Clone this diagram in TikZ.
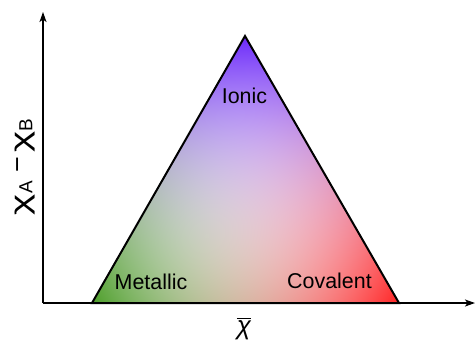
\documentclass[tikz,border=0pt]{standalone}
\usepackage{fontspec}
\setmainfont{Liberation Sans}
\usetikzlibrary{arrows.meta}
% colour of a point from its barycentric weights (apex, right, left)
\pgfdeclarefunctionalshading{trimix}{\pgfpoint{-50bp}{-50bp}}{\pgfpoint{50bp}{50bp}}{}{
    25 add 50 div exch 25 div
    2 copy exch 1 exch sub dup 3 -1 roll add 2 div 3 1 roll exch sub 2 div
    dup 0 lt {pop 0} if 2.3 exp 3 1 roll
    dup 0 lt {pop 0} if 2.3 exp 3 1 roll
    dup 0 lt {pop 0} if 2.3 exp 3 1 roll
    2 index -0.55 mul 2 index 0.03 mul add 1 index -0.67 mul add 0.97 add
    3 index -0.78 mul 3 index -0.80 mul add 2 index -0.32 mul add 0.94 add
    4 index 0.01 mul 4 index -0.83 mul add 3 index -0.81 mul add 0.97 add
    6 3 roll pop pop pop
}
\tikzset{axis/.style={line width=1.4bp,-{Stealth[length=10bp,width=7bp,inset=2.5bp]}}}
\tikzset{bondtype/.style={font=\fontsize{21.5}{24}\selectfont,inner sep=0pt,anchor=base}}
\newcommand{\chiglyph}{\scalebox{1.5}[1]{χ}}

\begin{document}
\begin{tikzpicture}[x=1bp,y=-1bp]
    \useasboundingbox (0,0) rectangle (475,342);
    \coordinate (top) at (245,36);
    \coordinate (left) at (92,303);
    \coordinate (right) at (399,303);
    \coordinate (origin) at (43,303);
    \coordinate (yend) at (43,12);
    \coordinate (xend) at (475,303);
    % triangle with mixed colours
    \shade [shading=trimix] (top) -- (left) -- (right) -- cycle;
    \draw [line width=2bp,line join=miter] (top) -- (left) -- (right) -- cycle;
    % axes
    \draw [axis] (origin) -- (yend);
    \draw [axis] (origin) -- (xend);
    \node [bondtype] (ionic) at (244.5,103) {Ionic};
    \node [bondtype] (metallic) at (151,289) {Metallic};
    \node [bondtype] (covalent) at (329.5,288) {Covalent};
    \node [font=\fontsize{27}{29}\selectfont,rotate=90,inner sep=0pt] (ylabel) at (25,167)
        {\chiglyph\raisebox{-3bp}{\fontsize{19}{20}\selectfont A}\hspace{9bp}\raisebox{3bp}{−}\hspace{4bp}\chiglyph\raisebox{-3bp}{\fontsize{19}{20}\selectfont B}};
    \node [font=\fontsize{26}{28}\selectfont\itshape,inner sep=0pt,anchor=base] (xlabel) at (244,334) {$\overline{\mbox{χ}}$};
\end{tikzpicture}
\end{document}
